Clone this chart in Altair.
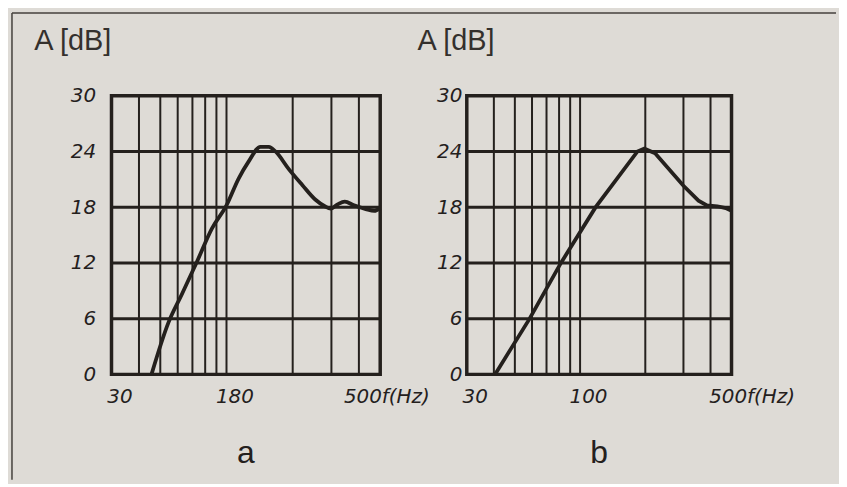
import altair as alt
import pandas as pd

# ---- data ----
freq_a = [45.6, 54.5, 62.6, 73.3, 85.8, 100, 113.7, 126, 142.6, 155.8, 167, 192, 221, 254, 280, 298, 320, 345, 380, 430, 470, 500]
db_a = [0, 5.6, 8.6, 12.1, 15.7, 18.2, 21.1, 22.9, 24.5, 24.5, 24.0, 22.1, 20.4, 18.8, 18.1, 17.85, 18.3, 18.6, 18.2, 17.8, 17.6, 17.9]

freq_b = [40.5, 58.5, 81.6, 118, 184, 198, 222, 300, 352, 385, 430, 470, 500]
db_b = [0, 6, 12, 18, 24, 24.3, 23.8, 20.3, 18.7, 18.2, 18.1, 17.9, 17.6]

grid_freqs = [40, 50, 60, 70, 80, 90, 100, 200, 300, 400]
grid_dbs = [6, 12, 18, 24]
y_ticks = [0, 6, 12, 18, 24, 30]
x_ticks = [30, 100, 500]
x_labels_a = ["30", "180", "500f(Hz)"]
x_labels_b = ["30", "100", "500f(Hz)"]
y_title = "A [dB]"
panel_names = ["a", "b"]

INK = "#24201d"
PAPER = "#dedbd6"
FONT = "Liberation Sans"
TICKFONT = "DejaVu Sans"


def label_expr(values, labels):
    expr = "''"
    for v, l in reversed(list(zip(values, labels))):
        expr = f"datum.value == {v} ? '{l}' : ({expr})"
    return expr


def panel(freqs, dbs, x_labels, name, width, height, ypad, ytitle_x, off500, interp, extra=None):
    xs = alt.Scale(type="log", domain=[30, 500], nice=False)
    ys = alt.Scale(domain=[0, 30], nice=False)
    df = pd.DataFrame({"f": freqs, "dB": dbs})

    xaxis = alt.Axis(
        values=x_ticks, labelExpr=label_expr(x_ticks, x_labels),
        ticks=False, domain=False, grid=False, title="",
        labelFont=TICKFONT, labelFontStyle="italic", labelFontSize=20,
        labelColor=INK, labelPadding=12, labelFlush=False,
        labelOverlap=False,
        labelAlign={"condition": {"test": "datum.value == 500", "value": "left"}, "value": "center"},
        labelOffset={"condition": {"test": "datum.value == 500", "value": off500}, "value": 8},
    )
    yaxis = alt.Axis(
        values=y_ticks, ticks=False, domain=False, grid=False,
        labelFont=TICKFONT, labelFontStyle="italic", labelFontSize=20,
        labelColor=INK, labelPadding=ypad, labelFlush=False,
        title=y_title, titleAngle=0, titleX=ytitle_x, titleY=-46,
        titleAlign="left", titleBaseline="alphabetic",
        titleFont=FONT, titleFontSize=29, titleFontWeight="normal",
        titleColor="#34302d",
    )

    vgrid = alt.Chart(pd.DataFrame({"f": grid_freqs})).mark_rule(
        color=INK, strokeWidth=2
    ).encode(x=alt.X("f:Q", scale=xs, axis=xaxis))
    hgrid = alt.Chart(pd.DataFrame({"dB": grid_dbs})).mark_rule(
        color=INK, strokeWidth=3
    ).encode(y=alt.Y("dB:Q", scale=ys, axis=yaxis))

    line = alt.Chart(df).mark_line(
        color=INK, strokeWidth=3.8, interpolate=interp
    ).encode(
        x=alt.X("f:Q", scale=xs, axis=xaxis),
        y=alt.Y("dB:Q", scale=ys, axis=yaxis),
    )
    tag = alt.Chart(pd.DataFrame({"name": [name]})).mark_text(
        font=FONT, fontSize=32, color=INK, baseline="middle", align="center"
    ).encode(text="name:N", x=alt.value(width / 2), y=alt.value(height + 79))

    layers = [vgrid, hgrid, line, tag]
    if extra:
        layers = extra + layers
    return alt.layer(*layers).properties(width=width, height=height)


one = pd.DataFrame({"k": [0]})
frame_top = alt.Chart(one).mark_rule(color="#45413d", strokeWidth=1.5).encode(
    x=alt.value(-100), x2=alt.value(728), y=alt.value(-83)
)
frame_left = alt.Chart(one).mark_rule(color="#45413d", strokeWidth=1.5).encode(
    x=alt.value(-100), y=alt.value(-83), y2=alt.value(386)
)

pa = panel(freq_a, db_a, x_labels_a, panel_names[0], 270, 280, 16, -78, -37, "monotone",
           extra=[frame_top, frame_left])
pb = panel(freq_b, db_b, x_labels_b, panel_names[1], 266, 280, 5, -50, -23, "linear")

chart = alt.hconcat(pa, pb, spacing=87, bounds="flush").properties(
    background=PAPER,
    padding={"left": 1, "top": 1, "right": 0, "bottom": 0},
).configure_view(stroke=INK, strokeWidth=3.5)

chart.save("out.html", embed_options={"renderer": "svg", "actions": False})
